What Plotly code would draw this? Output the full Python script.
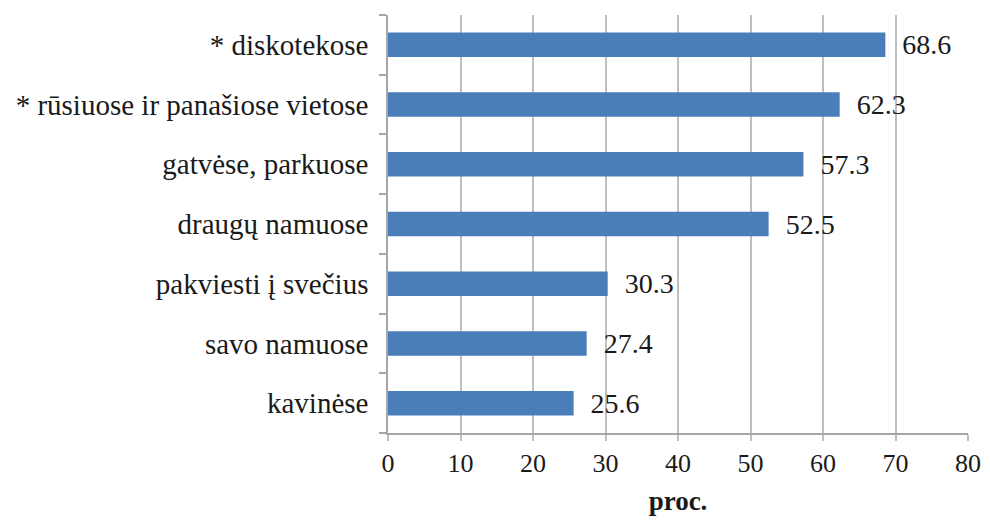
import plotly.graph_objects as go

vietos = ['kavinėse', 'savo namuose', 'pakviesti į svečius', 'draugų namuose',
          'gatvėse, parkuose', '* rūsiuose ir panašiose vietose', '* diskotekose']
procentai = [25.6, 27.4, 30.3, 52.5, 57.3, 62.3, 68.6]
x_ticks = [0, 10, 20, 30, 40, 50, 60, 70, 80]

serif = 'Liberation Serif'

fig = go.Figure(go.Bar(
    x=procentai, y=vietos, orientation='h',
    marker=dict(color='#4A7EBB', line=dict(width=0)),
    width=0.41,
    text=['  {:.1f}'.format(v) for v in procentai],
    textposition='outside', cliponaxis=False, constraintext='none',
    textfont=dict(family=serif, size=28, color='#1a1a1a'),
))

# the page body adds 8px on each side, so the figure is a bit smaller
fig.update_layout(
    width=982, height=517,
    margin=dict(l=380, r=22, t=7, b=92),
    paper_bgcolor='white', plot_bgcolor='white',
    font=dict(family=serif, size=26, color='#1a1a1a'),
    showlegend=False,
    xaxis=dict(range=[0, 80], tickvals=x_ticks, showgrid=True,
               gridcolor='#BFBFBF', gridwidth=1.5, zeroline=False,
               showline=True, linecolor='#A6A6A6', linewidth=1.5,
               ticks='outside', ticklen=6, tickcolor='#BFBFBF', tickwidth=1.5,
               title=dict(text='<b>proc.</b>', font=dict(family=serif, size=27), standoff=14),
               tickfont=dict(family=serif, size=26)),
    yaxis=dict(showline=True, linecolor='#A6A6A6', linewidth=1.5,
               ticks='outside', tickson='boundaries', ticklen=7,
               tickcolor='#A6A6A6', tickwidth=1.5, showgrid=False,
               automargin=False,
               ticklabelstandoff=12, tickfont=dict(family=serif, size=29)),
)

fig.write_html("out.html")
